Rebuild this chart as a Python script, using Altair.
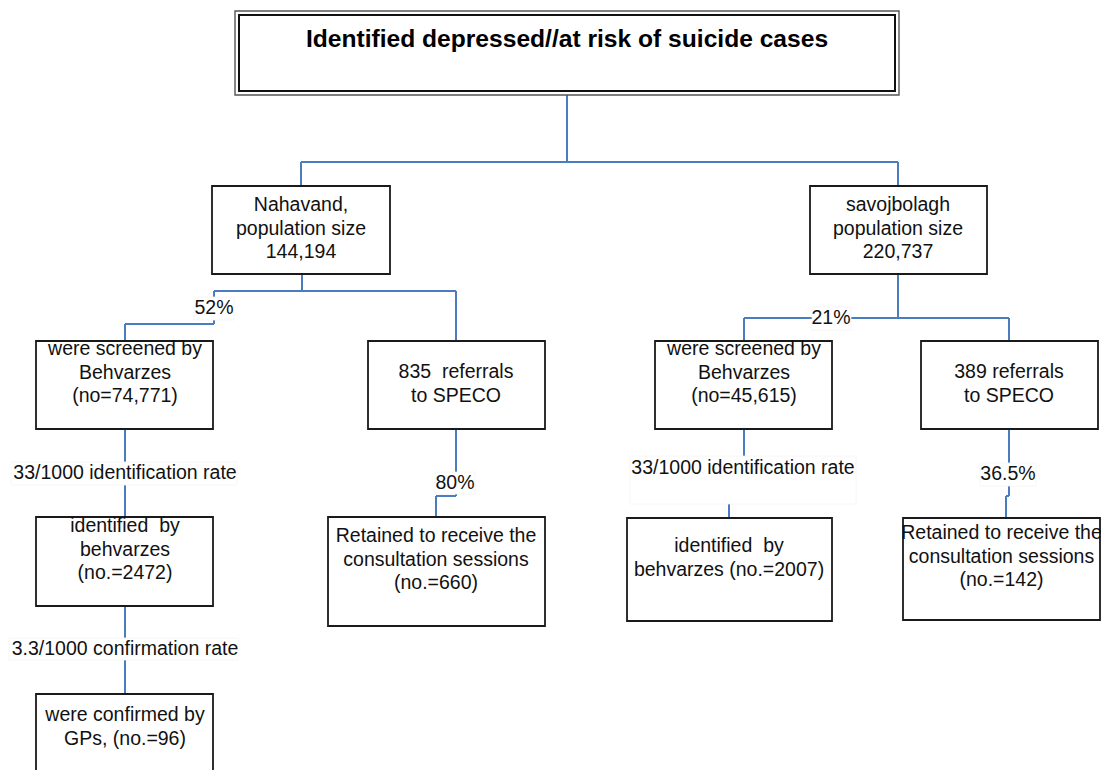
import altair as alt
import pandas as pd

# ---------------- content ----------------
title_text = "Identified depressed//at risk of suicide cases"

node_lines = [
    ["Nahavand,", "population size", "144,194"],
    ["savojbolagh", "population size", "220,737"],
    ["were screened by", "Behvarzes", "(no=74,771)"],
    ["835\u00a0 referrals", "\u00a0to SPECO"],
    ["were screened by", "Behvarzes", "(no=45,615)"],
    ["389 referrals", "\u00a0to SPECO"],
    ["identified\u00a0 by", "behvarzes", "(no.=2472)"],
    ["Retained to receive the", "consultation sessions", "(no.=660)"],
    ["identified\u00a0 by", "behvarzes (no.=2007)"],
    ["Retained to receive the", "consultation sessions", "(no.=142)"],
    ["were confirmed by", "GPs, (no.=96)"],
]

edge_labels = ["52%", "21%", "33/1000 identification rate",
               "3.3/1000 confirmation rate", "80%",
               "33/1000 identification rate", "36.5%"]

# ---------------- layout (reference pixel space) ----------------
title_xy = (567, 40)
title_outer = (235, 11, 899, 95)
title_inner = (239, 15, 895, 91)

node_boxes = [
    (212, 186, 390, 274), (810, 186, 987, 274),
    (36, 341, 213, 429), (368, 341, 545, 429),
    (655, 341, 832, 429), (921, 341, 1098, 429),
    (36, 517, 213, 606), (328, 517, 545, 626),
    (627, 518, 832, 621), (903, 518, 1100, 620),
    (36, 694, 213, 800),
]
node_text_x = [301, 898, 125, 456, 744, 1009, 125, 436, 729, 1001.5, 125]
node_text_y0 = [205, 205, 349, 372, 349, 372, 526, 536, 546, 533, 715]
line_step = 23.6

connectors = [
    (567, 95, 567, 162), (301, 162, 898, 162),
    (301, 162, 301, 186), (898, 162, 898, 186),
    (302, 274, 302, 291), (214, 291, 456, 291),
    (214, 291, 214, 324), (125, 324, 214, 324),
    (125, 324, 125, 341), (456, 291, 456, 341),
    (898, 274, 898, 318), (744, 318, 1009, 318),
    (744, 318, 744, 341), (1009, 318, 1009, 341),
    (125, 429, 125, 517), (125, 606, 125, 694),
    (456, 429, 456, 496), (436, 496, 456, 496),
    (436, 496, 436, 517),
    (744, 429, 744, 456), (729, 504, 729, 518),
    (1009, 429, 1009, 496), (1006, 496, 1009, 496),
    (1006, 496, 1006, 518),
]

edge_label_xy = [(214, 308), (831, 318), (125, 473), (125, 649),
                 (455, 483), (743, 468), (1008, 474)]
edge_label_bg = [(194, 297, 234, 320), (812, 307, 851, 330),
                 (11, 462, 237, 485), (9, 638, 238, 660),
                 (435, 472, 475, 494), (630, 456, 856, 504),
                 (980, 463, 1036, 486)]

FONT = "Liberation Sans"
BLUE = "#4A7CC0"

# ---------------- tables ----------------
conn_df = pd.DataFrame(connectors, columns=["x", "y", "x2", "y2"])
box_df = pd.DataFrame(node_boxes, columns=["x", "y", "x2", "y2"])
outer_df = pd.DataFrame([title_outer], columns=["x", "y", "x2", "y2"])
inner_df = pd.DataFrame([title_inner], columns=["x", "y", "x2", "y2"])
bg_df = pd.DataFrame(edge_label_bg, columns=["x", "y", "x2", "y2"])

rows = []
for lines, tx, ty in zip(node_lines, node_text_x, node_text_y0):
    for i, t in enumerate(lines):
        rows.append({"x": tx, "y": ty + i * line_step, "text": t})
for t, (lx, ly) in zip(edge_labels, edge_label_xy):
    rows.append({"x": lx, "y": ly, "text": t})
text_df = pd.DataFrame(rows)
title_df = pd.DataFrame([{"x": title_xy[0], "y": title_xy[1], "text": title_text}])

W, H = 1093, 762
xs = alt.Scale(domain=[8, 8 + W], nice=False, zero=False)
ys = alt.Scale(domain=[8, 8 + H], nice=False, zero=False, reverse=True)
X = lambda f="x": alt.X(f, type="quantitative", scale=xs, axis=None)
Y = lambda f="y": alt.Y(f, type="quantitative", scale=ys, axis=None)

lines_layer = alt.Chart(conn_df).mark_rule(color=BLUE, strokeWidth=2).encode(
    x=X(), x2="x2", y=Y(), y2="y2")

boxes_layer = alt.Chart(box_df).mark_rect(
    fill="white", stroke="#1a1a1a", strokeWidth=1.8).encode(
    x=X(), x2="x2", y=Y(), y2="y2")

outer_layer = alt.Chart(outer_df).mark_rect(
    fill="white", stroke="#555555", strokeWidth=1.4).encode(
    x=X(), x2="x2", y=Y(), y2="y2")
inner_layer = alt.Chart(inner_df).mark_rect(
    fill="white", stroke="#111111", strokeWidth=2).encode(
    x=X(), x2="x2", y=Y(), y2="y2")

bg_layer = alt.Chart(bg_df).mark_rect(fill="white", stroke="#f4f4f4", strokeWidth=0.8).encode(
    x=X(), x2="x2", y=Y(), y2="y2")

text_layer = alt.Chart(text_df).mark_text(
    font=FONT, fontSize=19.5, color="#111111", align="center", baseline="middle").encode(
    x=X(), y=Y(), text="text:N")

title_layer = alt.Chart(title_df).mark_text(
    font=FONT, fontSize=24.6, fontWeight="bold", color="#000000",
    align="center", baseline="middle").encode(
    x=X(), y=Y(), text="text:N")

chart = alt.layer(
    lines_layer, outer_layer, inner_layer, boxes_layer, bg_layer,
    text_layer, title_layer
).properties(
    width=W, height=H, padding=0, background="white",
    autosize=alt.AutoSizeParams(type="none")
).configure_view(strokeWidth=0)

chart.save("out.html", embed_options={"renderer": "svg", "actions": False})
